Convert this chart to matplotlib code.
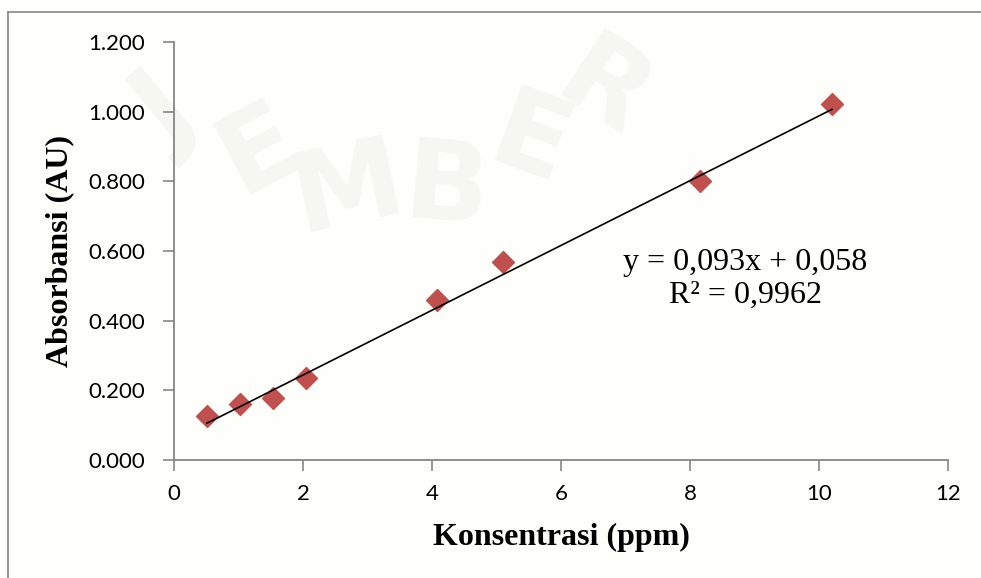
import numpy as np
import matplotlib
matplotlib.use("Agg")
import matplotlib.pyplot as plt
from matplotlib.lines import Line2D

# data kalibrasi
konsentrasi = [0.51, 1.02, 1.53, 2.04, 4.08, 5.10, 8.16, 10.20]
absorbansi = [0.125, 0.161, 0.178, 0.236, 0.460, 0.569, 0.800, 1.023]
slope = 0.093
intercept = 0.058
persamaan = "y = 0,093x + 0,058\nR² = 0,9962"
yticks = [0.0, 0.2, 0.4, 0.6, 0.8, 1.0, 1.2]
ytick_labels = ["0.000", "0.200", "0.400", "0.600", "0.800", "1.000", "1.200"]
xticks = [0, 2, 4, 6, 8, 10, 12]

abu = "#868686"
merah = "#C0504D"

fig = plt.figure(figsize=(9.81, 5.78), dpi=100, facecolor="#FEFEFB")
ax = fig.add_axes([0.1774, 0.2042, 0.7890, 0.7231])
ax.set_facecolor("none")

# watermark samar
huruf = ["J", "E", "M", "B", "E", "R"]
pos_huruf = [(0.17, 0.80), (0.265, 0.74), (0.355, 0.67), (0.455, 0.67), (0.54, 0.75), (0.615, 0.84)]
rot_huruf = [40, 28, 12, -5, -20, -33]
for h, (px, py), r in zip(huruf, pos_huruf, rot_huruf):
    fig.text(px, py, h, fontsize=80, fontweight="bold", color="#F7F7F2",
             ha="center", va="center", rotation=r, zorder=-5,
             family="DejaVu Sans")

# bingkai chart
fig.add_artist(Line2D([0.008, 1.0], [0.979, 0.979], color=abu, lw=1.2))
fig.add_artist(Line2D([0.008, 0.008], [0.0, 0.979], color=abu, lw=1.2))

ax.scatter(konsentrasi, absorbansi, marker="D", s=125, color=merah, zorder=3)

xs = np.array([min(konsentrasi), max(konsentrasi)])
ax.plot(xs, slope * xs + intercept, color="black", lw=1.2, zorder=4)

ax.text(0.738, 0.433, persamaan, transform=ax.transAxes, ha="center", va="center",
        fontsize=23, family="Liberation Serif", linespacing=1.2)

ax.set_xlim(0, 12)
ax.set_ylim(0, 1.2)
ax.set_xticks(xticks)
ax.set_yticks(yticks)
ax.set_yticklabels(ytick_labels)

for s in ["top", "right"]:
    ax.spines[s].set_visible(False)
for s in ["left", "bottom"]:
    ax.spines[s].set_color(abu)
    ax.spines[s].set_linewidth(1.3)

ax.tick_params(axis="both", colors=abu, labelcolor="black", labelsize=16,
               length=8, width=1.2, direction="out")
for lbl in ax.get_xticklabels() + ax.get_yticklabels():
    lbl.set_family("Lato")
ax.tick_params(axis="x", pad=9)
ax.tick_params(axis="y", pad=13)

ax.set_xlabel("Konsentrasi (ppm)", fontsize=23, fontweight="bold",
              family="Liberation Serif", labelpad=14)
ax.set_ylabel("Absorbansi (AU)", fontsize=23, fontweight="bold",
              family="Liberation Serif", labelpad=10)

fig.savefig("out.png", dpi=100, facecolor=fig.get_facecolor())
